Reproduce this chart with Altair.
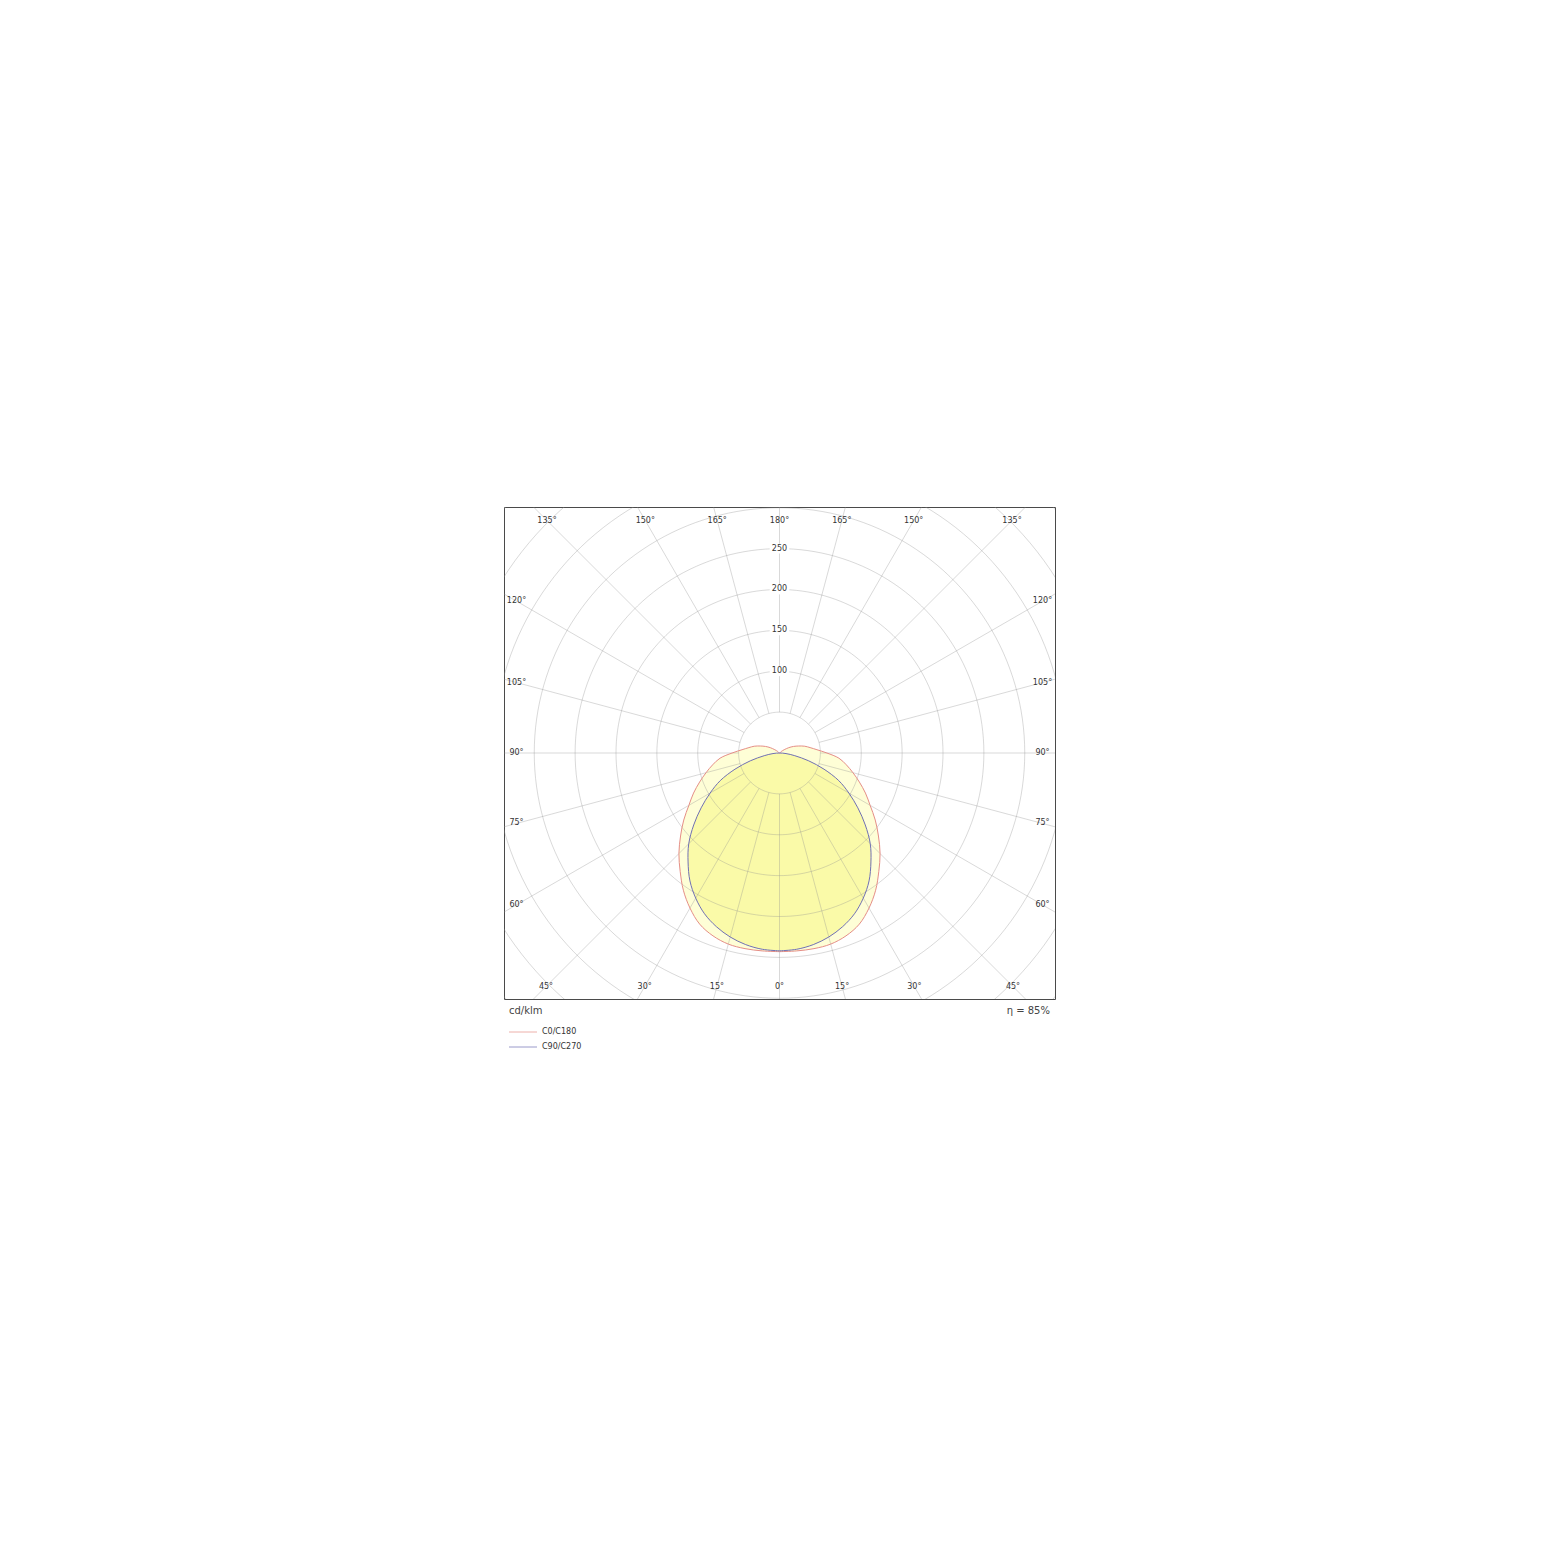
import altair as alt
import numpy as np
import pandas as pd

# ---------------- data (cd/klm) ----------------
GAMMA_C0 = list(range(0, 140, 5))
C0_C180 = [243, 243, 243, 242, 238, 231, 219, 205, 189, 174, 158, 143, 128, 116,
           104, 93, 83, 73, 58, 46, 38, 32, 25, 19, 13, 7, 3, 0]
GAMMA_C90 = list(range(0, 95, 5))
C90_C270 = [242, 241, 238, 233, 226, 217, 205, 191, 174, 157, 137, 117, 98, 80,
            58, 37, 19, 8, 0]
SERIES = ["C0/C180", "C90/C270"]
LINE_COLORS = ["#e58e87", "#7070b4"]
FILL_COLORS = ["#fefed6", "#fafaa8"]
RING_VALUES = [50, 100, 150, 200, 250, 300, 350, 400, 450]
RING_LABELS = [100, 150, 200, 250]
ANGLE_TICKS = list(range(0, 181, 15))
UNIT_TEXT = "cd/klm"
ETA_TEXT = "η = 85%"

# ---------------- layout ----------------
W, H = 551, 492
XMAX = 337.0
PX_PER_UNIT = W / (2 * XMAX)
YMAX = H / PX_PER_UNIT / 2
INSET_X = 12.5 / PX_PER_UNIT
INSET_TOP = 13.5 / PX_PER_UNIT
INSET_BOTTOM = 12.5 / PX_PER_UNIT
FONT = "DejaVu Sans"

xsc = alt.Scale(domain=[-XMAX, XMAX], nice=False, zero=False)
ysc = alt.Scale(domain=[-YMAX, YMAX], nice=False, zero=False)


def X(f="x"):
    return alt.X(f + ":Q", scale=xsc, axis=None)


def Y(f="y"):
    return alt.Y(f + ":Q", scale=ysc, axis=None)


# curves: left side gamma ascending, right side descending (apex shared)
rows = []
for name, gam, vals in [(SERIES[0], GAMMA_C0, C0_C180), (SERIES[1], GAMMA_C90, C90_C270)]:
    k = 0
    for g, v in zip(gam, vals):
        rows.append(dict(series=name, side=-1, gamma=g, value=v, idx=k))
        k += 1
    for g, v in zip(gam[::-1][1:], vals[::-1][1:]):
        rows.append(dict(series=name, side=1, gamma=g, value=v, idx=k))
        k += 1
curves = pd.DataFrame(rows)

curve_base = alt.Chart(curves).transform_calculate(
    x="datum.side * datum.value * sin(datum.gamma * PI / 180)",
    y="-datum.value * cos(datum.gamma * PI / 180)",
)

fills = []
for name, fc in zip(SERIES, FILL_COLORS):
    fills.append(
        curve_base.transform_filter(alt.datum.series == name)
        .mark_line(fill=fc, strokeWidth=0, strokeOpacity=0, interpolate="catmull-rom")
        .encode(x=X(), y=Y(), order="idx:Q")
    )

# grid rings
ring_df = pd.DataFrame(
    [dict(ring=r, t=t) for r in RING_VALUES for t in range(0, 361, 2)]
)
rings = (
    alt.Chart(ring_df)
    .transform_calculate(
        x="datum.ring * sin(datum.t * PI / 180)",
        y="datum.ring * cos(datum.t * PI / 180)",
    )
    .mark_line(clip=True, color="#8f8f8f", opacity=0.34, strokeWidth=1)
    .encode(x=X(), y=Y(), detail="ring:N", order="t:Q")
)

# radial lines
spoke_df = pd.DataFrame({"a": list(range(0, 360, 15))})
spokes = (
    alt.Chart(spoke_df)
    .transform_calculate(
        x="50 * sin(datum.a * PI / 180)",
        y="50 * cos(datum.a * PI / 180)",
        x2="600 * sin(datum.a * PI / 180)",
        y2="600 * cos(datum.a * PI / 180)",
    )
    .mark_rule(clip=True, color="#8f8f8f", opacity=0.34, strokeWidth=1)
    .encode(x=X(), y=Y(), x2="x2:Q", y2="y2:Q")
)

# ring value labels with white background
lab_df = pd.DataFrame({"v": RING_LABELS})
lab_bg = (
    alt.Chart(lab_df)
    .transform_calculate(
        x="-12", x2="12", y="datum.v - 6", y2="datum.v + 6"
    )
    .mark_rect(color="white")
    .encode(x=X(), x2="x2:Q", y=Y(), y2="y2:Q")
)
lab_txt = (
    alt.Chart(lab_df)
    .transform_calculate(x="0", y="datum.v", label="'' + datum.v")
    .mark_text(font=FONT, fontSize=8, color="#333333")
    .encode(x=X(), y=Y(), text="label:N")
)

# angle labels around the frame
xi = XMAX - INSET_X
arows = []
for g in ANGLE_TICKS:
    sides = [0] if g in (0, 180) else [-1, 1]
    for s in sides:
        dx = s * np.sin(np.radians(g))
        dy = -np.cos(np.radians(g))
        yi = YMAX - (INSET_TOP if dy > 0 else INSET_BOTTOM)
        ts = []
        if abs(dx) > 1e-9:
            ts.append(xi / abs(dx))
        if abs(dy) > 1e-9:
            ts.append(yi / abs(dy))
        t = min(ts)
        arows.append(dict(x=t * dx, y=t * dy, label=f"{g}°"))
ang_df = pd.DataFrame(arows)
ang_txt = (
    alt.Chart(ang_df)
    .mark_text(font=FONT, fontSize=8, color="#333333")
    .encode(x=X(), y=Y(), text="label:N")
)

# curve strokes
strokes = curve_base.mark_line(strokeWidth=1, interpolate="catmull-rom").encode(
    x=X(),
    y=Y(),
    order="idx:Q",
    detail="series:N",
    color=alt.Color("series:N", scale=alt.Scale(domain=SERIES, range=LINE_COLORS), legend=None),
)

# texts below frame and legend
unit = alt.Chart(pd.DataFrame({"t": [UNIT_TEXT]})).mark_text(
    font=FONT, fontSize=10, color="#444444", align="left", baseline="middle"
).encode(x=alt.value(5), y=alt.value(504), text="t:N")
eta = alt.Chart(pd.DataFrame({"t": [ETA_TEXT]})).mark_text(
    font=FONT, fontSize=10, color="#444444", align="right", baseline="middle"
).encode(x=alt.value(W - 5), y=alt.value(504), text="t:N")

legend_layers = []
for i, (name, col) in enumerate(zip(SERIES, LINE_COLORS)):
    yy = 525 + 15 * i
    legend_layers.append(
        alt.Chart(pd.DataFrame({"s": [name]})).mark_rule(color=col, strokeWidth=1, opacity=0.7)
        .encode(x=alt.value(5), x2=alt.value(33), y=alt.value(yy))
    )
    legend_layers.append(
        alt.Chart(pd.DataFrame({"s": [name]})).mark_text(
            font=FONT, fontSize=8, color="#333333", align="left", baseline="middle"
        ).encode(x=alt.value(38), y=alt.value(yy), text="s:N")
    )

chart = (
    alt.layer(*fills, rings, spokes, lab_bg, lab_txt, ang_txt, strokes, unit, eta, *legend_layers)
    .properties(width=W, height=H, padding={"left": 496, "top": 499, "right": 10, "bottom": 10})
    .configure_view(stroke="#4a4a4a", strokeWidth=1)
)

chart.save("out.html", embed_options={"renderer": "svg", "actions": False})
